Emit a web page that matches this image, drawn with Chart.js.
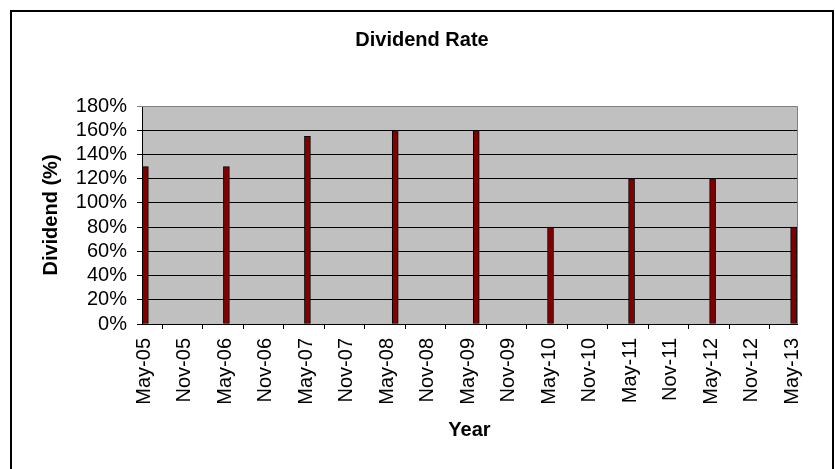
<!DOCTYPE html>
<html>
<head>
<meta charset="utf-8">
<title>Dividend Rate</title>
<script src="https://cdn.jsdelivr.net/npm/chart.js@4/dist/chart.umd.min.js"></script>
<style>
  html, body { margin: 0; padding: 0; background: #ffffff; }
  canvas { display: block; }
</style>
</head>
<body>
<canvas id="chart" width="835" height="469"></canvas>
<script>
// Half-yearly axis labels (month-year)
const tickLabels = ['May-05', 'Nov-05', 'May-06', 'Nov-06', 'May-07', 'Nov-07', 'May-08', 'Nov-08',
                    'May-09', 'Nov-09', 'May-10', 'Nov-10', 'May-11', 'Nov-11', 'May-12', 'Nov-12', 'May-13'];
// Dividend payment months
const payDates = ['May-05', 'May-06', 'May-07', 'Jun-08', 'Jun-09', 'May-10', 'May-11', 'May-12', 'May-13'];
// Dividend rate (%) paid in each of those months
const dividendPct = [130, 130, 155, 160, 160, 80, 120, 120, 80];
// Value axis ticks (%)
const yTicks = [0, 20, 40, 60, 80, 100, 120, 140, 160, 180];

const MONTHS = ['Jan', 'Feb', 'Mar', 'Apr', 'May', 'Jun', 'Jul', 'Aug', 'Sep', 'Oct', 'Nov', 'Dec'];
const FIRST = tickLabels[0];

// Months elapsed since the first axis month
function monthIndex(label) {
  const [mon, yy] = label.split('-');
  const base = FIRST.split('-');
  return (Number(yy) - Number(base[1])) * 12 + (MONTHS.indexOf(mon) - MONTHS.indexOf(base[0]));
}

const tickMonths = tickLabels.map(monthIndex);
const axisMonths = tickMonths[tickMonths.length - 1] + 1;   // one slot per month

Chart.defaults.font.family = "'Liberation Sans', Arial, Helvetica, sans-serif";
Chart.defaults.color = '#000000';

// Grey plot area, its grey top/right edge, and the outer chart frame
const frames = {
  id: 'frames',
  beforeDraw(chart) {
    const { ctx, chartArea: a } = chart;
    ctx.save();
    ctx.fillStyle = '#ffffff';
    ctx.fillRect(0, 0, chart.width, chart.height);
    ctx.fillStyle = '#c0c0c0';
    ctx.fillRect(a.left, a.top, a.right - a.left, a.bottom - a.top);
    ctx.lineWidth = 2;
    ctx.strokeStyle = '#000000';
    ctx.strokeRect(11, 11, 822, 480);
    ctx.restore();
  },
  beforeDatasetsDraw(chart) {
    const { ctx, chartArea: a } = chart;
    ctx.save();
    ctx.strokeStyle = '#808080';
    ctx.lineWidth = 1;
    ctx.beginPath();
    ctx.moveTo(a.left, Math.round(a.top) + 0.5);
    ctx.lineTo(Math.round(a.right) + 0.5, Math.round(a.top) + 0.5);
    ctx.lineTo(Math.round(a.right) + 0.5, a.bottom);
    ctx.stroke();
    ctx.restore();
  }
};

new Chart(document.getElementById('chart'), {
  type: 'bar',
  data: {
    datasets: [{
      label: 'Dividend (%)',
      data: payDates.map((d, i) => ({ x: monthIndex(d) + 0.5, y: dividendPct[i] })),
      backgroundColor: '#800000',
      borderColor: '#000000',
      borderWidth: 1,
      borderSkipped: false,
      barThickness: 6
    }]
  },
  options: {
    responsive: false,
    animation: false,
    devicePixelRatio: 1,
    layout: { padding: { left: 47, right: 38, top: 0, bottom: 0 } },
    plugins: {
      legend: { display: false },
      tooltip: { enabled: false },
      title: {
        display: true,
        text: 'Dividend Rate',
        color: '#000000',
        font: { size: 20, weight: 'bold' },
        padding: { top: 28, bottom: 54 }
      }
    },
    scales: {
      x: {
        type: 'linear',
        min: 0,
        max: axisMonths,
        offset: false,
        afterBuildTicks(scale) { scale.ticks = tickMonths.map(v => ({ value: v })); },
        afterFit(scale) { scale.height = 145; },
        ticks: {
          autoSkip: false,
          minRotation: 90,
          maxRotation: 90,
          padding: 9,
          labelOffset: 2,
          font: { size: 20 },
          color: '#000000',
          callback: (v) => tickLabels[tickMonths.indexOf(v)]
        },
        grid: { drawOnChartArea: false, drawTicks: true, tickLength: 5, color: '#000000' },
        border: { display: true, color: '#000000', width: 1 },
        title: {
          display: true,
          text: 'Year',
          color: '#000000',
          font: { size: 20, weight: 'bold' },
          padding: { top: 0, bottom: 27 }
        }
      },
      y: {
        min: 0,
        max: 180,
        afterBuildTicks(scale) { scale.ticks = yTicks.map(v => ({ value: v })); },
        afterFit(scale) { scale.width = 95; },
        ticks: {
          autoSkip: false,
          padding: 10,
          font: { size: 20 },
          color: '#000000',
          callback: (v) => v + '%'
        },
        grid: {
          tickLength: 5,
          lineWidth: 1,
          color: (c) => (c.tick && c.tick.value === 180 ? '#808080' : '#000000')
        },
        border: { display: true, color: '#000000', width: 1 },
        title: {
          display: true,
          text: 'Dividend (%)',
          color: '#000000',
          font: { size: 20, weight: 'bold' },
          padding: { top: -8, bottom: 0 }
        }
      }
    }
  },
  plugins: [frames]
});
</script>
</body>
</html>
